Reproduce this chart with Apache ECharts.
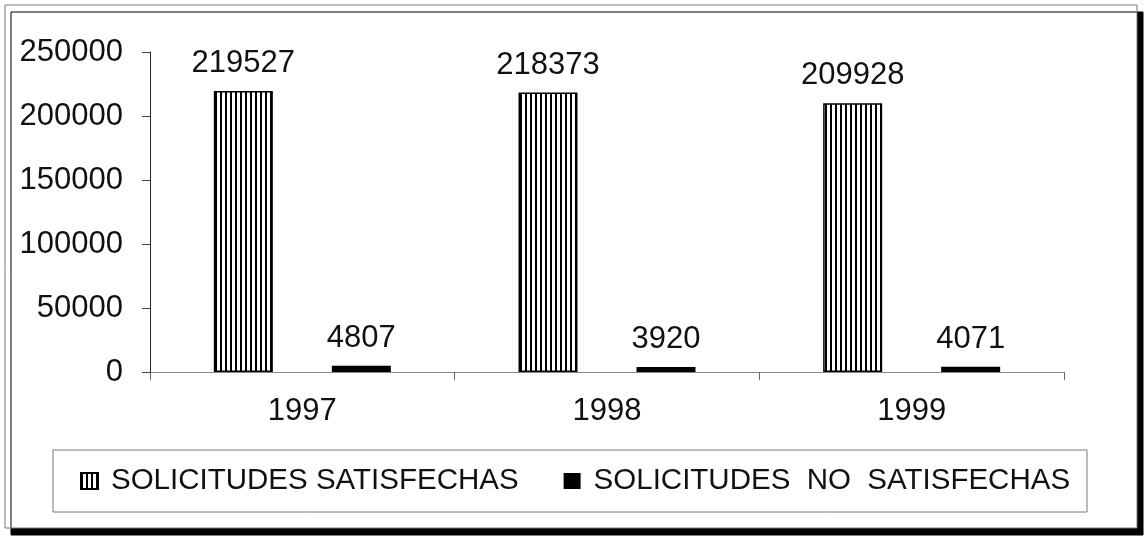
<!DOCTYPE html>
<html>
<head>
<meta charset="utf-8">
<script src="https://cdn.jsdelivr.net/npm/echarts@6/dist/echarts.min.js"></script>
<style>
  html, body { margin: 0; padding: 0; background: #fff; }
  #chart { width: 1145px; height: 537px; }
</style>
</head>
<body>
<div id="chart"></div>
<script>
// datos
const years = ['1997', '1998', '1999']
const satisfechas = [219527, 218373, 209928]
const noSatisfechas = [4807, 3920, 4071]
const seriesNames = ['SOLICITUDES SATISFECHAS', 'SOLICITUDES  NO  SATISFECHAS']
const yTicks = [0, 50000, 100000, 150000, 200000, 250000]

const FONT = '"Liberation Sans", Arial, sans-serif'

// rayado vertical para la primera serie
function stripePattern () {
  const c = document.createElement('canvas')
  c.width = 5
  c.height = 10
  const ctx = c.getContext('2d')
  ctx.fillStyle = '#fff'
  ctx.fillRect(0, 0, 5, 10)
  ctx.fillStyle = '#000'
  ctx.fillRect(0, 0, 2, 10)
  return c
}

const chart = echarts.init(document.getElementById('chart'), null, { renderer: 'canvas' })

const valueLabel = {
  show: true,
  position: 'top',
  distance: 12,
  color: '#111',
  fontSize: 31,
  fontFamily: FONT
}

chart.setOption({
  animation: false,
  backgroundColor: '#fff',
  graphic: [
    {
      type: 'rect',
      z: -10,
      shape: { x: 5, y: 5, width: 1132, height: 523 },
      style: {
        fill: '#fff',
        stroke: '#777',
        lineWidth: 1,
        shadowColor: '#000',
        shadowBlur: 0,
        shadowOffsetX: 6,
        shadowOffsetY: 7
      }
    },
    {
      type: 'rect',
      z: -5,
      shape: { x: 53, y: 450, width: 1034, height: 62 },
      style: { fill: 'transparent', stroke: '#777', lineWidth: 1 }
    }
  ],
  grid: {
    left: 150,
    right: 81,
    top: 52,
    bottom: 165
  },
  legend: {
    left: 80,
    top: 466,
    padding: 0,
    itemWidth: 17,
    itemHeight: 16,
    itemGap: 45,
    icon: 'rect',
    textStyle: {
      fontSize: 29.5,
      fontFamily: FONT,
      color: '#111',
      padding: [0, 0, 0, 8]
    },
    data: seriesNames
  },
  xAxis: {
    type: 'category',
    data: years,
    axisLine: { lineStyle: { color: '#888', width: 1 } },
    axisTick: { show: true, inside: false, length: 8, lineStyle: { color: '#666' } },
    axisLabel: { margin: 24, fontSize: 31, fontFamily: FONT, color: '#111' }
  },
  yAxis: {
    type: 'value',
    min: 0,
    max: yTicks[yTicks.length - 1],
    interval: yTicks[1] - yTicks[0],
    splitLine: { show: false },
    axisLine: { show: true, lineStyle: { color: '#222', width: 1 } },
    axisTick: { show: true, length: 8, lineStyle: { color: '#444' } },
    axisLabel: {
      margin: 27,
      fontSize: 31,
      fontFamily: FONT,
      color: '#111',
      formatter: v => String(v)
    }
  },
  series: [
    {
      name: seriesNames[0],
      type: 'bar',
      data: satisfechas,
      barWidth: 59,
      barGap: '100%',
      itemStyle: {
        color: { image: stripePattern(), repeat: 'repeat' },
        borderColor: '#000',
        borderWidth: 1.5
      },
      label: valueLabel
    },
    {
      name: seriesNames[1],
      type: 'bar',
      data: noSatisfechas,
      barWidth: 59,
      barGap: '100%',
      itemStyle: { color: '#000' },
      label: valueLabel
    }
  ]
})
</script>
</body>
</html>
